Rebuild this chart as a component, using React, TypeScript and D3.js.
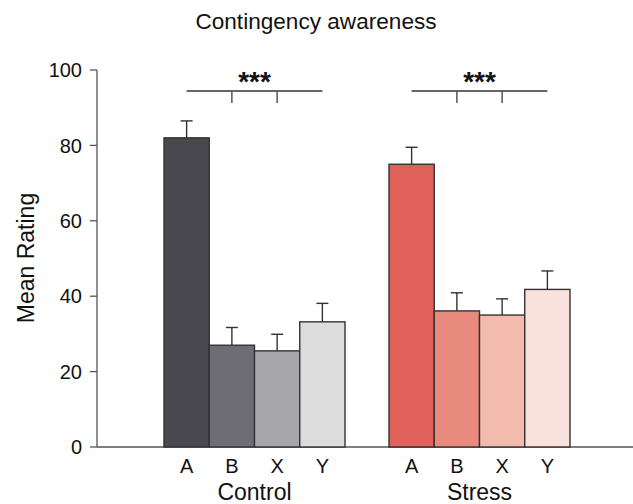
import React from "react";
import * as d3 from "d3";

const groups = ["Control", "Stress"];
const conditions = ["A", "B", "X", "Y"];
const controlMeans = [82, 27, 25.5, 33.2];
const controlErrors = [4.5, 4.7, 4.4, 4.9];
const stressMeans = [75, 36.1, 35, 41.8];
const stressErrors = [4.5, 4.8, 4.3, 4.9];
const yTicks = [0, 20, 40, 60, 80, 100];
const controlColors = ["#48484e", "#6d6d73", "#a7a7ab", "#dcdcdc"];
const stressColors = ["#e0605a", "#e88b7e", "#f2bbae", "#f9e1dc"];
const significance = ["***", "***"];

const W = 633;
const H = 504;

export default function App() {
  const y = d3.scaleLinear().domain([0, 100]).range([447, 70]);
  const xg = d3
    .scaleBand<string>()
    .domain(groups)
    .range([164, 570])
    .paddingInner(44 / 225)
    .paddingOuter(0);
  const xc = d3
    .scaleBand<string>()
    .domain(conditions)
    .range([0, xg.bandwidth()])
    .padding(0);

  const data = groups.map((g, gi) => ({
    group: g,
    means: gi === 0 ? controlMeans : stressMeans,
    errors: gi === 0 ? controlErrors : stressErrors,
    colors: gi === 0 ? controlColors : stressColors,
    sig: significance[gi],
  }));

  const axisX = 97;
  const font = "Liberation Sans, Arial, Helvetica, sans-serif";

  return (
    <svg
      width={W}
      height={H}
      style={{ position: "absolute", left: 0, top: 0, background: "#fff" }}
      fontFamily={font}
    >
      <text x={316} y={29} textAnchor="middle" fontSize={22.6} fill="#111">
        Contingency awareness
      </text>
      <text
        transform={`translate(34,258) rotate(-90)`}
        textAnchor="middle"
        fontSize={23}
        fill="#111"
      >
        Mean Rating
      </text>
      {/* y axis */}
      <line x1={axisX} x2={axisX} y1={y(100)} y2={y(0)} stroke="#555" strokeWidth={1.3} />
      {yTicks.map((t) => (
        <g key={t}>
          <line x1={axisX - 7} x2={axisX} y1={y(t)} y2={y(t)} stroke="#555" strokeWidth={1.3} />
          <text x={axisX - 15} y={y(t)} dy="0.36em" textAnchor="end" fontSize={20} fill="#111">
            {t}
          </text>
        </g>
      ))}
      {/* x axis */}
      <line x1={axisX} x2={W} y1={y(0)} y2={y(0)} stroke="#555" strokeWidth={1.3} />
      {data.map((d) => {
        const gx = xg(d.group)!;
        const centers = conditions.map((c) => gx + xc(c)! + xc.bandwidth() / 2);
        const sigY = 91;
        return (
          <g key={d.group}>
            {d.means.map((m, i) => {
              const x0 = gx + xc(conditions[i])!;
              const cx = centers[i];
              const top = y(m + d.errors[i]);
              return (
                <g key={i}>
                  <line x1={cx} x2={cx} y1={y(m)} y2={top} stroke="#333" strokeWidth={1.4} />
                  <line x1={cx - 6} x2={cx + 6} y1={top} y2={top} stroke="#333" strokeWidth={1.4} />
                  <rect
                    x={x0}
                    y={y(m)}
                    width={xc.bandwidth()}
                    height={y(0) - y(m)}
                    fill={d.colors[i]}
                    stroke="#333"
                    strokeWidth={1.4}
                  />
                </g>
              );
            })}
            {conditions.map((c, i) => (
              <text
                key={c}
                x={centers[i]}
                y={473}
                textAnchor="middle"
                fontSize={20}
                fill="#111"
              >
                {c}
              </text>
            ))}
            <text x={gx + xg.bandwidth() / 2} y={500} textAnchor="middle" fontSize={23} fill="#111">
              {d.group}
            </text>
            {/* significance bracket */}
            <line x1={centers[0]} x2={centers[3]} y1={sigY} y2={sigY} stroke="#666" strokeWidth={2} />
            <line x1={centers[1]} x2={centers[1]} y1={sigY} y2={sigY + 12} stroke="#555" strokeWidth={1.5} />
            <line x1={centers[2]} x2={centers[2]} y1={sigY} y2={sigY + 12} stroke="#555" strokeWidth={1.5} />
            <text
              x={(centers[1] + centers[2]) / 2}
              y={sigY}
              textAnchor="middle"
              fontSize={28}
              fontWeight="bold"
              fill="#111"
            >
              {d.sig}
            </text>
          </g>
        );
      })}
    </svg>
  );
}
